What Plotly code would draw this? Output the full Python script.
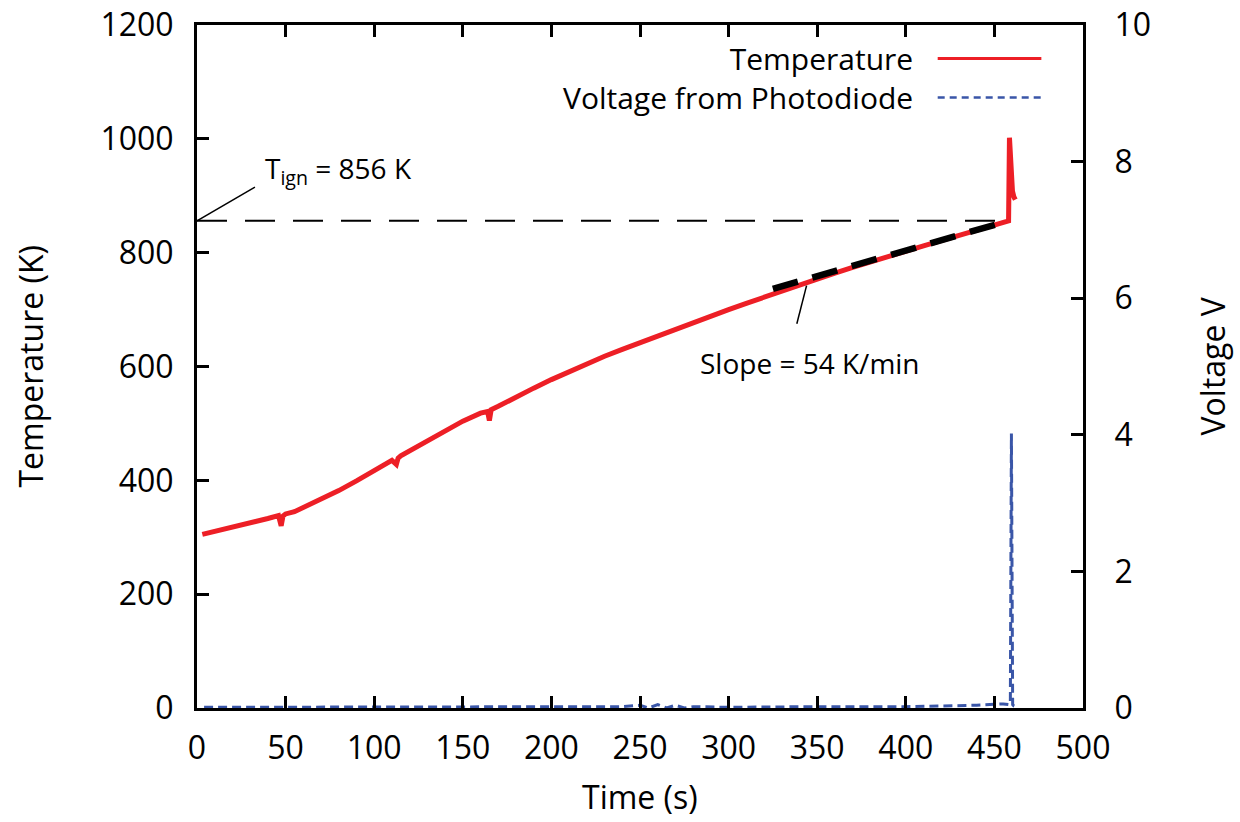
import plotly.graph_objects as go

# ---- data ----
temp_time = [3, 10, 20, 30, 40, 46, 47.5, 48.5, 50, 55, 60, 70, 80, 90, 100, 110, 112.5, 113.5, 115,
             120, 130, 140, 150, 160, 164, 165, 166, 170, 180, 190, 200, 210, 220, 230, 240, 250,
             260, 270, 280, 290, 300, 310, 320, 330, 340, 350, 360, 370, 380, 390, 400, 410, 420,
             430, 440, 450, 457, 458, 458.5, 459.3, 460.2, 461, 461.8]
temp_vals = [305, 310, 318, 326, 333, 338, 320, 337, 341, 345, 352, 366, 382, 399, 417, 435, 428, 439, 443,
             452, 470, 487, 504, 518, 521, 505, 524, 530, 547, 562, 577, 591, 604, 618, 630, 642,
             654, 666, 677, 689, 700, 711, 722, 733, 744, 754, 764, 774, 784, 794, 803, 812, 821,
             830, 838, 847, 853, 856, 1002, 935, 908, 898, 893]

volt_time = [4, 50, 100, 150, 200, 240, 250, 255, 260, 265, 270, 275, 280, 300, 350, 400, 440, 450,
             455, 458, 459, 459.6, 460.3, 461, 462]
volt_vals = [0.01, 0.01, 0.01, 0.01, 0.01, 0.02, 0.04, 0.0, 0.05, 0.0, 0.04, 0.0, 0.02, 0.01, 0.02, 0.02,
             0.04, 0.05, 0.06, 0.05, 0.06, 4.02, 0.05, 0.03, 0.02]

t_ign = 856
ign_time = [0, 458]
fit_time = [325, 458]
slope_k_per_min = 54
fit_vals = [t_ign - slope_k_per_min / 60 * (458 - fit_time[0]), t_ign]

legend_names = ["Temperature", "Voltage from Photodiode"]

FONT = "Open Sans"
RED = "#ed1f26"
BLUE = "#3a56a8"
FS = 32

fig = go.Figure()

fig.add_trace(go.Scatter(x=ign_time, y=[t_ign, t_ign], mode="lines",
                         line=dict(color="black", width=2, dash="30px,18px"),
                         showlegend=False, hoverinfo="skip"))
fig.add_trace(go.Scatter(x=temp_time, y=temp_vals, mode="lines", name=legend_names[0],
                         line=dict(color=RED, width=5), showlegend=False))
fig.add_trace(go.Scatter(x=fit_time, y=fit_vals, mode="lines",
                         line=dict(color="black", width=6.5, dash="26px,15px"),
                         showlegend=False, hoverinfo="skip"))
fig.add_trace(go.Scatter(x=volt_time, y=volt_vals, mode="lines", name=legend_names[1],
                         line=dict(color=BLUE, width=3, dash="9px,5px"), yaxis="y2",
                         showlegend=False))

# leader lines for annotations
fig.add_shape(type="line", x0=0, y0=t_ign, x1=32.7, y1=915, xref="x", yref="y",
              line=dict(color="black", width=1.5))
fig.add_shape(type="line", x0=344, y0=742, x1=338.5, y1=675, xref="x", yref="y",
              line=dict(color="black", width=1.5))

fig.add_annotation(x=37, y=945, xref="x", yref="y", text="T<sub>ign</sub> = 856 K",
                   showarrow=False, xanchor="left", yanchor="middle",
                   font=dict(family=FONT, size=28, color="black"))
fig.add_annotation(x=346, y=606, xref="x", yref="y", text="Slope = 54 K/min",
                   showarrow=False, xanchor="center", yanchor="middle",
                   font=dict(family=FONT, size=28, color="black"))

# custom legend (text on the left, right-aligned; line samples on the right)
fig.add_annotation(x=0.810, y=0.9224, xref="paper", yref="paper", text="<br>".join(legend_names),
                   showarrow=False, xanchor="right", yanchor="middle", align="right",
                   font=dict(family=FONT, size=30, color="black"))
for col, dash, w, yy in [(RED, "solid", 3, 0.951), (BLUE, "7px,5px", 2.5, 0.894)]:
    fig.add_shape(type="line", x0=0.836, x1=0.953, y0=yy, y1=yy, xref="paper", yref="paper",
                  line=dict(color=col, width=w, dash=dash))

# axis titles as annotations for exact placement
title_font = dict(family=FONT, size=FS, color="black")
fig.add_annotation(x=0, y=0.5, xref="paper", yref="paper", text="Temperature (K)", textangle=-90,
                   xshift=-167, showarrow=False, xanchor="center", yanchor="middle", font=title_font)
fig.add_annotation(x=1, y=0.5, xref="paper", yref="paper", text="Voltage V", textangle=-90,
                   xshift=129, showarrow=False, xanchor="center", yanchor="middle", font=title_font)
fig.add_annotation(x=0.5, y=0, xref="paper", yref="paper", text="Time (s)",
                   yshift=-88, showarrow=False, xanchor="center", yanchor="middle", font=title_font)

axis_common = dict(showline=True, linecolor="black", linewidth=3, ticks="inside",
                   tickwidth=2.5, ticklen=12, tickcolor="black", showgrid=False, zeroline=False,
                   automargin=False, ticklabeloverflow="allow",
                   tickfont=dict(family=FONT, size=FS, color="black"))

fig.update_layout(
    width=1240, height=822,
    margin=dict(l=197, r=157, t=25, b=114, autoexpand=False),
    plot_bgcolor="white", paper_bgcolor="white",
    xaxis=dict(range=[0, 500], dtick=50, mirror="ticks", ticklabelstandoff=10, **axis_common),
    yaxis=dict(range=[0, 1200], dtick=200, ticklabelstandoff=14, **axis_common),
    yaxis2=dict(range=[0, 10], dtick=2, overlaying="y", side="right", ticklabelstandoff=22,
                **axis_common),
    showlegend=False,
)

# remove the default 8px body margin so the 1240x822 figure fills the window exactly
fig.write_html("out.html", config={"displayModeBar": False},
               post_script="document.body.style.margin='0';")
